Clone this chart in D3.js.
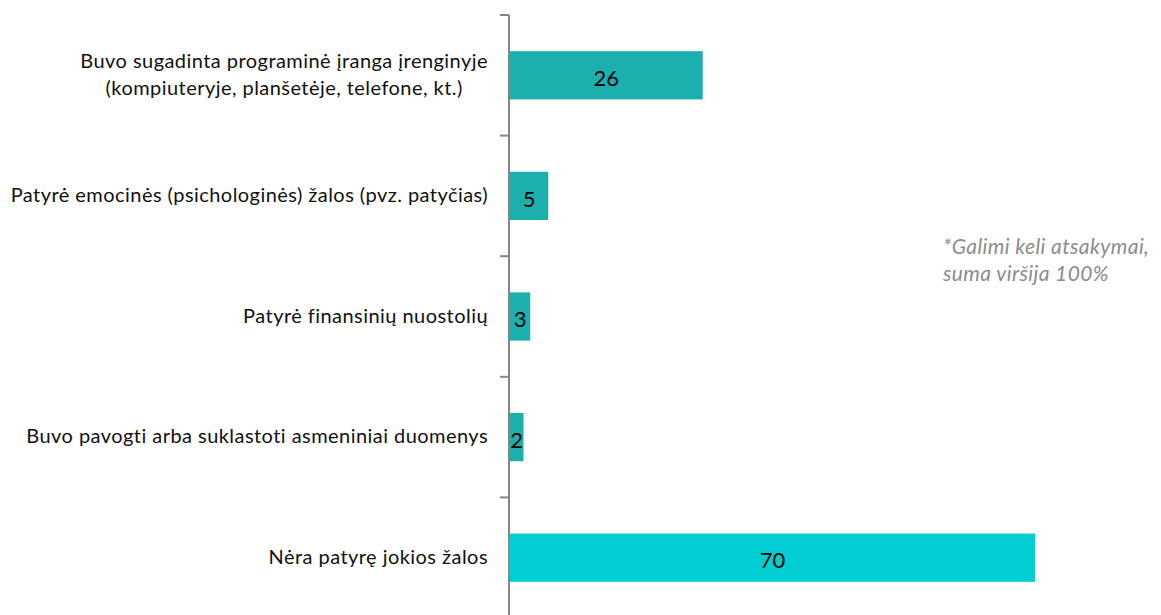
<!DOCTYPE html>
<html><head><meta charset="utf-8">
<script src="https://cdn.jsdelivr.net/npm/d3@7"></script>
<style>body{margin:0;background:#fff}svg{display:block}</style>
</head><body>
<svg id="c" width="1161" height="615"></svg>
<script>
const categories = [
  ["Buvo sugadinta programinė įranga įrenginyje", "(kompiuteryje, planšetėje, telefone, kt.)"],
  ["Patyrė emocinės (psichologinės) žalos (pvz. patyčias)"],
  ["Patyrė finansinių nuostolių"],
  ["Buvo pavogti arba suklastoti asmeniniai duomenys"],
  ["Nėra patyrę jokios žalos"]
];
const values = [25.7, 5.1, 2.7, 1.8, 70];
const valueLabels = ["26", "5", "3", "2", "70"];
const barColors = ["#1bb0ae", "#1bb0ae", "#1bb0ae", "#1bb0ae", "#00ced3"];
const noteLines = ["*Galimi keli atsakymai,", "suma viršija 100%"];

const svg = d3.select("#c");
const FONT = "Lato, 'Open Sans', sans-serif";
const x0 = 510, y0 = 15, y1 = 618;
const x = d3.scaleLinear().domain([0, 70]).range([x0, 1035]);
const idx = d3.range(categories.length);
const yb = d3.scaleBand().domain(idx).range([y0, y1]);
const barH = yb.bandwidth() * 0.4;
const bandC = i => yb(i) + yb.bandwidth() / 2;

// bars
svg.selectAll("rect.bar").data(idx).enter().append("rect")
  .attr("x", x(0)).attr("y", i => bandC(i) - barH / 2)
  .attr("width", i => x(values[i]) - x(0)).attr("height", barH)
  .attr("fill", i => barColors[i]);

// axis
const axis = svg.append("g").attr("transform", `translate(${x0 - 1},0)`);
axis.append("line").attr("x1", 0).attr("x2", 0).attr("y1", y0).attr("y2", 615)
  .attr("stroke", "#868686").attr("stroke-width", 2);
const tickYs = idx.map(i => yb(i));
axis.selectAll("line.tk").data(tickYs).enter().append("line")
  .attr("x1", -9).attr("x2", 0).attr("y1", d => d).attr("y2", d => d)
  .attr("stroke", "#868686").attr("stroke-width", 2);

// category labels
const labelRight = 488;
idx.forEach(i => {
  const lines = categories[i];
  const g = svg.append("g");
  const lh = 27;
  const cy = bandC(i) - 1;
  const texts = lines.map((s, k) => g.append("text")
    .attr("y", cy + (k - (lines.length - 1) / 2) * lh)
    .attr("dy", "0.35em")
    .attr("font-family", FONT).style("letter-spacing", "0.45px")
    .attr("font-size", 20).attr("fill", "#111").text(s));
  if (lines.length > 1) {
    const w = d3.max(texts, t => t.node().getComputedTextLength());
    texts.forEach(t => t.attr("x", labelRight - w / 2).attr("text-anchor", "middle"));
  } else {
    texts.forEach(t => t.attr("x", labelRight).attr("text-anchor", "end"));
  }
});

// value labels
svg.selectAll("text.val").data(idx).enter().append("text")
  .attr("x", i => (x(0) + x(values[i])) / 2)
  .attr("y", i => bandC(i) + 3)
  .attr("dy", "0.35em").attr("text-anchor", "middle")
  .attr("font-family", FONT)
  .attr("font-size", 22).attr("fill", "#000")
  .text(i => valueLabels[i]);

// note
noteLines.forEach((s, k) => svg.append("text")
  .attr("x", 943).attr("y", 247 + k * 27).attr("dy", "0.35em")
  .attr("font-family", FONT).style("letter-spacing", "0.4px")
  .attr("font-style", "italic").attr("font-size", 21).attr("fill", "#8c8c8c").text(s));
</script>
</body></html>
